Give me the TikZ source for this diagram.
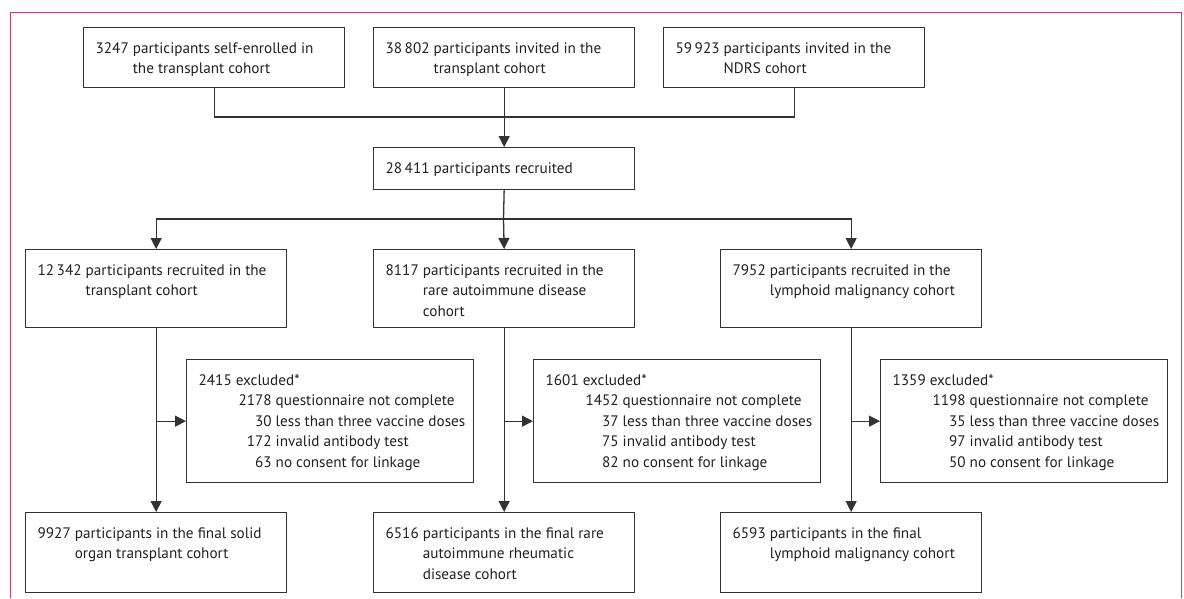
\documentclass[tikz,border=0pt]{standalone}
\usepackage{fontspec}
\setmainfont{PT Sans}
\usetikzlibrary{arrows.meta}
\definecolor{linecol}{HTML}{333333}
\definecolor{textcol}{HTML}{231F20}
\definecolor{framecol}{RGB}{208,58,108}
\newcommand\bx[3]{\parbox[c][\dimexpr#2pt-22.3pt\relax][t]{\dimexpr#1pt-24pt\relax}{\fontsize{15.2}{20.5}\selectfont #3}}
\newcommand\hg[2]{\begin{tabular}[t]{@{}l@{\ }l@{}}#1 & #2\end{tabular}}
\newcommand\exl[2]{\begin{tabular}[t]{@{}r@{\ }l@{}}\multicolumn{2}{@{}l@{}}{#1}\\ #2\end{tabular}}
\newcommand\nm[1]{\makebox[73pt][r]{#1}}
\tikzset{
  box/.style={draw=linecol, line width=1.3pt, inner xsep=12pt, inner ysep=11.15pt, anchor=north west, text=textcol},
  ln/.style={draw=linecol, line width=1.3pt},
  arr/.style={ln, -{Triangle[width=11pt,length=11pt]}},
}
\begin{document}
\begin{tikzpicture}[x=1pt,y=-1pt]
\useasboundingbox (0,0) rectangle (1184,598);
\draw[framecol, line width=1pt] (10,598) -- (10,12) -- (1181,12) -- (1181,598);
% row 1
\node[box] (t1) at (83,27) {\bx{261}{60}{\hg{3247}{participants self-enrolled in\\ & the transplant cohort}}};
\node[box] (t2) at (373,27) {\bx{261}{60}{\hg{38\,802}{participants invited in the\\ & transplant cohort}}};
\node[box] (t3) at (663,27) {\bx{261}{60}{\hg{59\,923}{participants invited in the\\ & NDRS cohort}}};
\node[box] (rec) at (373,147) {\bx{261}{42}{\hg{28\,411}{participants recruited}}};
% row 2
\node[box] (A) at (25,249) {\bx{261}{78}{\hg{12\,342}{participants recruited in the\\ & transplant cohort}}};
\node[box] (B) at (373,249) {\bx{261}{78}{\hg{8117}{participants recruited in the\\ & rare autoimmune disease\\ & cohort}}};
\node[box] (C) at (720,249) {\bx{261}{78}{\hg{7952}{participants recruited in the\\ & lymphoid malignancy cohort}}};
% exclusions
\node[box] (exA) at (186,359) {\bx{287}{123}{\exl{2415 excluded*}{\nm{2178} & questionnaire not complete\\ 30 & less than three vaccine doses\\ 172 & invalid antibody test\\ 63 & no consent for linkage}}};
\node[box] (exB) at (533,359) {\bx{287}{123}{\exl{1601 excluded*}{\nm{1452} & questionnaire not complete\\ 37 & less than three vaccine doses\\ 75 & invalid antibody test\\ 82 & no consent for linkage}}};
\node[box] (exC) at (880,359) {\bx{287}{123}{\exl{1359 excluded*}{\nm{1198} & questionnaire not complete\\ 35 & less than three vaccine doses\\ 97 & invalid antibody test\\ 50 & no consent for linkage}}};
% row 3
\node[box] (D) at (25,512) {\bx{261}{80}{\hg{9927}{participants in the final solid\\ & organ transplant cohort}}};
\node[box] (E) at (373,512) {\bx{261}{80}{\hg{6516}{participants in the final rare\\ & autoimmune rheumatic\\ & disease cohort}}};
\node[box] (F) at (720,512) {\bx{261}{80}{\hg{6593}{participants in the final\\ & lymphoid malignancy cohort}}};
% connectors
\coordinate (j1) at (503.5,117);
\coordinate (j2) at (503.5,219);
\draw[ln] (t1.south) |- (j1) -| (t3.south);
\draw[arr] (t2.south) -- (rec.north);
\draw[ln] (rec.south) -- (j2);
\draw[arr] (j2) -| (A.north);
\draw[arr] (j2) -- (B.north);
\draw[arr] (j2) -| (C.north);
\draw[arr] (A.south) -- (D.north);
\draw[arr] (B.south) -- (E.north);
\draw[arr] (C.south) -- (F.north);
\draw[arr] (A.south |- exA.west) -- (exA.west);
\draw[arr] (B.south |- exB.west) -- (exB.west);
\draw[arr] (C.south |- exC.west) -- (exC.west);
\end{tikzpicture}
\end{document}
